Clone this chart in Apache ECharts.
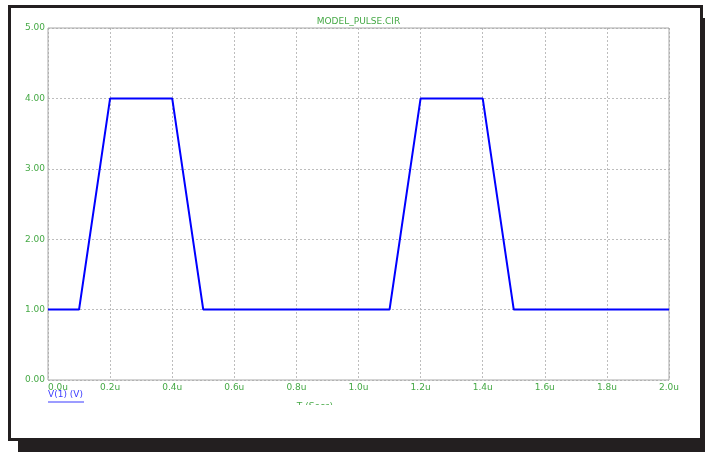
<!DOCTYPE html>
<html>
<head>
<meta charset="utf-8">
<script src="https://cdn.jsdelivr.net/npm/echarts@6/dist/echarts.min.js"></script>
<style>html,body{margin:0;padding:0;background:#fff;}#c{width:705px;height:452px;}</style>
</head>
<body>
<div id="c"></div>
<script>
var titleText = 'MODEL_PULSE.CIR';
var seriesName = 'V(1) (V)';
var xAxisTitle = 'T (Secs)';
var timeUs = [0, 0.1, 0.2, 0.4, 0.5, 1.1, 1.2, 1.4, 1.5, 2.0];
var voltage = [1, 1, 4, 4, 1, 1, 4, 4, 1, 1];
var xTicks = [0, 0.2, 0.4, 0.6, 0.8, 1.0, 1.2, 1.4, 1.6, 1.8, 2.0];
var yTicks = [0, 1, 2, 3, 4, 5];

var green = '#46a946';
var chart = echarts.init(document.getElementById('c'), null, {renderer: 'canvas'});
var data = timeUs.map(function (t, i) { return [t, voltage[i]]; });
chart.setOption({
  animation: false,
  backgroundColor: '#fff',
  grid: {left: 48, right: 36, top: 28, bottom: 72, show: true, borderColor: '#a8a8a8', borderWidth: 1, z: 1},
  xAxis: {
    type: 'value', min: xTicks[0], max: xTicks[xTicks.length - 1], interval: 0.2,
    axisLine: {show: false}, axisTick: {show: false},
    splitLine: {show: true, lineStyle: {color: '#bdbdbd', type: [2, 2], width: 1}},
    axisLabel: {color: green, fontSize: 9, fontFamily: 'DejaVu Sans', margin: 3, alignMinLabel: 'left',
      formatter: function (v) { return v.toFixed(1) + 'u'; }}
  },
  yAxis: {
    type: 'value', min: yTicks[0], max: yTicks[yTicks.length - 1], interval: 1,
    axisLine: {show: false}, axisTick: {show: false},
    splitLine: {show: true, lineStyle: {color: '#bdbdbd', type: [2, 2], width: 1}},
    axisLabel: {color: green, fontSize: 9, fontFamily: 'DejaVu Sans', margin: 3,
      formatter: function (v) { return v.toFixed(2); }}
  },
  series: [{
    type: 'line', name: seriesName, data: data, showSymbol: false, symbol: 'none',
    lineStyle: {color: '#0000ff', width: 2}, z: 3
  }],
  graphic: [
    {type: 'rect', shape: {x: 18, y: 441, width: 687, height: 11}, style: {fill: '#231f20'}, z: 100},
    {type: 'rect', shape: {x: 702, y: 18, width: 3, height: 434}, style: {fill: '#231f20'}, z: 100},
    {type: 'rect', shape: {x: 9.5, y: 6.5, width: 692, height: 433}, style: {fill: null, stroke: '#231f20', lineWidth: 3}, z: 100},
    {type: 'text', style: {text: titleText, x: 358.5, y: 22, fill: green, font: '9px "DejaVu Sans"', textAlign: 'center', textVerticalAlign: 'middle'}, z: 50},
    {type: 'text', style: {text: seriesName, x: 48, y: 395, fill: '#3a3aff', font: '9px "DejaVu Sans"', textVerticalAlign: 'middle'}, z: 50},
    {type: 'rect', shape: {x: 48, y: 401.5, width: 36, height: 1}, style: {fill: '#3a3aff'}, z: 50},
    {type: 'text', style: {text: xAxisTitle, x: 315, y: 407, fill: green, font: '9px "DejaVu Sans"', textAlign: 'center', textVerticalAlign: 'middle'}, z: 50},
    {type: 'rect', shape: {x: 270, y: 405, width: 90, height: 10}, style: {fill: '#fff'}, z: 60}
  ]
});
</script>
</body>
</html>
